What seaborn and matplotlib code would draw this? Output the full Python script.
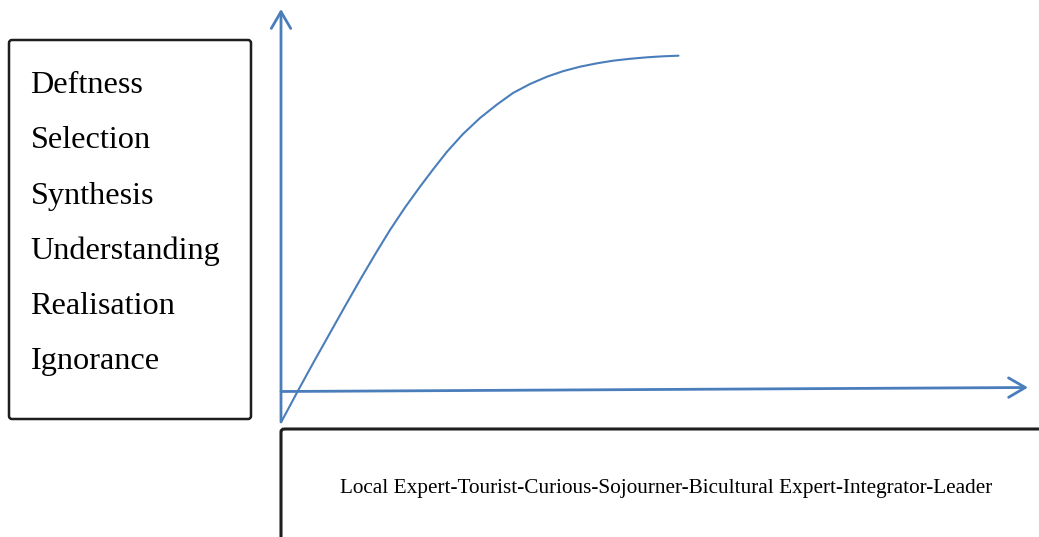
import matplotlib
matplotlib.use("Agg")
import matplotlib.pyplot as plt
import seaborn as sns
import pandas as pd
from matplotlib.patches import FancyBboxPatch

sns.set_theme(style="white")
plt.rcParams['font.family'] = ['Liberation Serif', 'DejaVu Serif']

# Stage labels (top to bottom) and bottom caption
levels = ["Deftness", "Selection", "Synthesis", "Understanding", "Realisation", "Ignorance"]
caption = "Local Expert-Tourist-Curious-Sojourner-Bicultural Expert-Integrator-Leader"

# Curve points (pixel-like canvas units, y grows downward)
curve_x = [281.5, 298, 314, 330, 345, 360, 375, 390, 405, 420, 433, 447, 463, 480, 497, 513,
           530, 547, 563, 580, 597, 613, 630, 647, 663, 678.5]
curve_y = [421.5, 390.7, 361.5, 333, 306.3, 280, 254.5, 230, 207.5, 186.7, 169.5, 151.7, 134, 118,
           104.5, 93, 84, 76.7, 71.2, 66.7, 63.3, 60.7, 58.8, 57.3, 56.3, 55.7]

BLUE = "#4A7EBB"
EDGE = "#1e1e1e"

fig = plt.figure(figsize=(10.39, 5.37), dpi=100)
ax = fig.add_axes([0, 0, 1, 1])

df = pd.DataFrame({"x": curve_x, "y": curve_y})
sns.lineplot(data=df, x="x", y="y", ax=ax, color=BLUE, lw=1.5, sort=False, estimator=None)
ax.lines[-1].set_solid_joinstyle("round")
ax.set_xlim(0, 1039)
ax.set_ylim(537, 0)
ax.axis("off")

arrow_kw = dict(arrowstyle="->,head_length=12,head_width=7", color=BLUE, lw=2.0,
                shrinkA=0, shrinkB=0, mutation_scale=1)
# vertical axis
ax.annotate("", xy=(281, 9), xytext=(281, 422), arrowprops=arrow_kw)
# horizontal axis
ax.annotate("", xy=(1028, 387.5), xytext=(281, 391.5), arrowprops=arrow_kw)

# left box
left_box = FancyBboxPatch((9, 40), 242, 379, boxstyle="round,pad=0,rounding_size=3",
                          fill=False, ec=EDGE, lw=1.8)
ax.add_patch(left_box)
baselines = [93, 148, 204, 259, 314, 369]
for lab, yb in zip(levels, baselines):
    ax.text(30.5, yb, lab, fontsize=23.2, ha="left", va="baseline", color="black")

# bottom box (extends beyond the canvas)
bottom_box = FancyBboxPatch((281, 429), 800, 200, boxstyle="round,pad=0,rounding_size=3",
                            fill=False, ec=EDGE, lw=2.2)
ax.add_patch(bottom_box)
ax.text(666, 493, caption, fontsize=15.3, ha="center", va="baseline", color="black")

fig.savefig("out.png", dpi=100)
